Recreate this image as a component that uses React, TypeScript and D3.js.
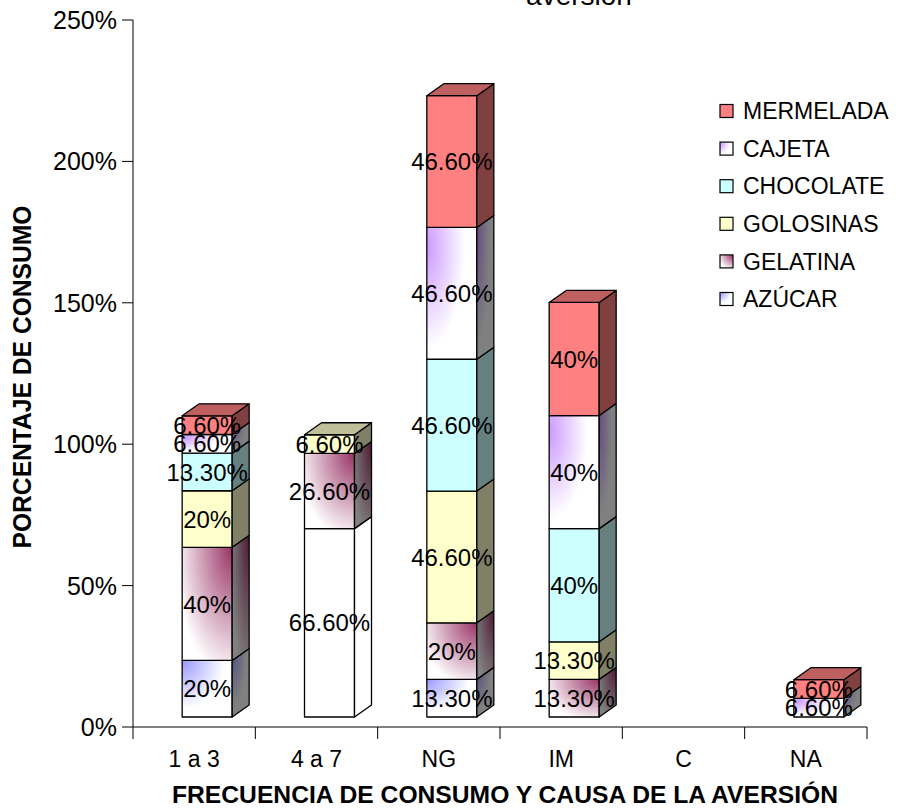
import React from "react";
import * as d3 from "d3";

// Consumption frequency / aversion cause categories
const categories = ["1 a 3", "4 a 7", "NG", "IM", "C", "NA"];
const seriesNames = ["AZÚCAR", "GELATINA", "GOLOSINAS", "CHOCOLATE", "CAJETA", "MERMELADA"];

// Percentages per series, one value per category
const azucar = [20, 66.6, 13.3, 0, 0, 0];
const gelatina = [40, 26.6, 20, 13.3, 0, 0];
const golosinas = [20, 6.6, 46.6, 13.3, 0, 0];
const chocolate = [13.3, 0, 46.6, 40, 0, 0];
const cajeta = [6.6, 0, 46.6, 40, 0, 6.6];
const mermelada = [6.6, 0, 46.6, 40, 0, 6.6];

const yTicks = [0, 50, 100, 150, 200, 250];

const seriesValues: number[][] = [azucar, gelatina, golosinas, chocolate, cajeta, mermelada];

type Style = { color: string; grad?: { cx: number; cy: number; r: number; end: number } };
const styles: Record<string, Style> = {
  "AZÚCAR": { color: "#9999FF", grad: { cx: 0, cy: 0, r: 1.0, end: 0.85 } },
  "GELATINA": { color: "#993366", grad: { cx: 1, cy: 0, r: 1.15, end: 1 } },
  "GOLOSINAS": { color: "#FFFFCC" },
  "CHOCOLATE": { color: "#CCFFFF" },
  "CAJETA": { color: "#CC99FF", grad: { cx: 0, cy: 0.15, r: 0.9, end: 0.85 } },
  "MERMELADA": { color: "#FF8080" },
};
// points drawn with a plain white fill (series index, category index)
const whitePoints = [[0, 1]];

const FONT = "'Liberation Sans', Arial, Helvetica, sans-serif";

const shade = (c: string, k: number) => {
  const r = d3.rgb(c);
  return d3.rgb(r.r * k, r.g * k, r.b * k).formatHex();
};

const fmt = (v: number) => (Number.isInteger(v) ? `${v}%` : `${v.toFixed(2)}%`);

const idOf = (name: string) => "s" + seriesNames.indexOf(name);

export default function App() {
  const table = categories.map((c, i) => {
    const row: Record<string, number | string> = { cat: c };
    seriesNames.forEach((s, j) => (row[s] = seriesValues[j][i]));
    return row;
  });
  const stacked = d3.stack<Record<string, number | string>>().keys(seriesNames)(table as any);

  const x = d3.scaleBand<string>().domain(categories).range([133, 867]).paddingInner(0).paddingOuter(0);
  const y = d3.scaleLinear().domain([0, 250]).range([727, 20]);

  // oblique 3D projection of the columns
  const DX = 17;
  const DY = -12;
  const OX = 13;
  const OY = -10;
  const BW = 50;

  const faceFill = (name: string, face: "front" | "side" | "top", white: boolean) => {
    if (white) return "#FFFFFF";
    const st = styles[name];
    if (st.grad) return `url(#${idOf(name)}-${face})`;
    if (face === "front") return st.color;
    if (face === "side") return shade(st.color, 0.5);
    return shade(st.color, 0.75);
  };

  const bars: React.ReactNode[] = [];
  const labels: React.ReactNode[] = [];

  categories.forEach((c, i) => {
    const cx = (x(c) as number) + x.bandwidth() / 2 + OX;
    const x0 = cx - BW / 2;
    const x1 = cx + BW / 2;
    let topIdx = -1;
    seriesNames.forEach((s, j) => {
      if (seriesValues[j][i] > 0) topIdx = j;
    });
    seriesNames.forEach((s, j) => {
      const v = seriesValues[j][i];
      if (!(v > 0)) return;
      const [v0, v1] = stacked[j][i];
      const yb = y(v0) + OY;
      const yt = y(v1) + OY;
      const white = whitePoints.some((p) => p[0] === j && p[1] === i);
      const side = [
        [x1, yb],
        [x1 + DX, yb + DY],
        [x1 + DX, yt + DY],
        [x1, yt],
      ];
      const top = [
        [x0, yt],
        [x0 + DX, yt + DY],
        [x1 + DX, yt + DY],
        [x1, yt],
      ];
      bars.push(
        <g key={`${c}-${s}`} stroke="#000" strokeWidth={1.3} strokeLinejoin="round">
          <rect x={x0} y={yt} width={BW} height={yb - yt} fill={faceFill(s, "front", white)} />
          <polygon points={side.map((p) => p.join(",")).join(" ")} fill={faceFill(s, "side", white)} />
          {j === topIdx && (
            <polygon points={top.map((p) => p.join(",")).join(" ")} fill={faceFill(s, "top", white)} />
          )}
        </g>
      );
      labels.push(
        <text
          key={`l-${c}-${s}`}
          x={cx}
          y={(yt + yb) / 2}
          dy="0.36em"
          textAnchor="middle"
          fontSize={24}
          fontFamily={FONT}
          fill="#000"
        >
          {fmt(v)}
        </text>
      );
    });
  });

  const legendNames = [...seriesNames].reverse();
  const legendY = (k: number) => 111 + k * 37.6;

  return (
    <svg
      width={904}
      height={808}
      viewBox="0 0 904 808"
      style={{ position: "absolute", left: 0, top: 0, display: "block", background: "#fff" }}
    >
      <defs>
        {seriesNames
          .filter((s) => styles[s].grad)
          .map((s) => {
            const st = styles[s];
            const g = st.grad!;
            const faces: [string, number][] = [
              ["front", 1],
              ["side", 0.5],
              ["top", 0.75],
            ];
            return faces.map(([face, k]) => (
              <radialGradient
                key={`${s}-${face}`}
                id={`${idOf(s)}-${face}`}
                cx={g.cx}
                cy={g.cy}
                r={g.r}
                fx={g.cx}
                fy={g.cy}
              >
                <stop offset={0} stopColor={shade(st.color, k)} />
                <stop offset={g.end} stopColor={shade("#FFFFFF", k)} />
              </radialGradient>
            ));
          })}
      </defs>

      {/* title (continues above the visible area) */}
      <text x={579} y={5} textAnchor="middle" fontSize={28} fontFamily={FONT} fill="#000">
        aversión
      </text>

      {/* value axis */}
      <line x1={133} x2={133} y1={20} y2={739} stroke="#000" strokeWidth={1} />
      {yTicks.map((t) => (
        <g key={`yt-${t}`}>
          <line x1={122} x2={133} y1={y(t)} y2={y(t)} stroke="#000" strokeWidth={1} />
          <text x={117} y={y(t)} dy="0.36em" textAnchor="end" fontSize={25} fontFamily={FONT} fill="#000">
            {`${t}%`}
          </text>
        </g>
      ))}

      {/* category axis */}
      <line x1={133} x2={867} y1={727} y2={727} stroke="#000" strokeWidth={1} />
      {categories.map((c) => (
        <line
          key={`xt-${c}`}
          x1={(x(c) as number) + x.bandwidth()}
          x2={(x(c) as number) + x.bandwidth()}
          y1={727}
          y2={739}
          stroke="#000"
          strokeWidth={1}
        />
      ))}
      {categories.map((c) => (
        <text
          key={`xl-${c}`}
          x={(x(c) as number) + x.bandwidth() / 2}
          y={767}
          textAnchor="middle"
          fontSize={23}
          fontFamily={FONT}
          fill="#000"
        >
          {c}
        </text>
      ))}

      {bars}
      {labels}

      {/* axis titles */}
      <text
        x={505}
        y={803}
        textAnchor="middle"
        fontSize={23}
        fontWeight="bold"
        fontFamily={FONT}
        textLength={666}
        lengthAdjust="spacingAndGlyphs"
        fill="#000"
      >
        FRECUENCIA DE CONSUMO Y CAUSA DE LA AVERSIÓN
      </text>
      <text
        transform="translate(31,377) rotate(-90)"
        textAnchor="middle"
        fontSize={25}
        fontWeight="bold"
        fontFamily={FONT}
        textLength={343}
        lengthAdjust="spacingAndGlyphs"
        fill="#000"
      >
        PORCENTAJE DE CONSUMO
      </text>

      {/* legend */}
      {legendNames.map((s, k) => (
        <g key={`lg-${s}`}>
          <rect
            x={720}
            y={legendY(k) - 6.5}
            width={13}
            height={13}
            fill={faceFill(s, "front", false)}
            stroke="#000"
            strokeWidth={1.2}
          />
          <text
            x={743}
            y={legendY(k)}
            dy="0.36em"
            fontSize={23}
            fontFamily={FONT}
            fill="#000"
          >
            {s}
          </text>
        </g>
      ))}
    </svg>
  );
}
